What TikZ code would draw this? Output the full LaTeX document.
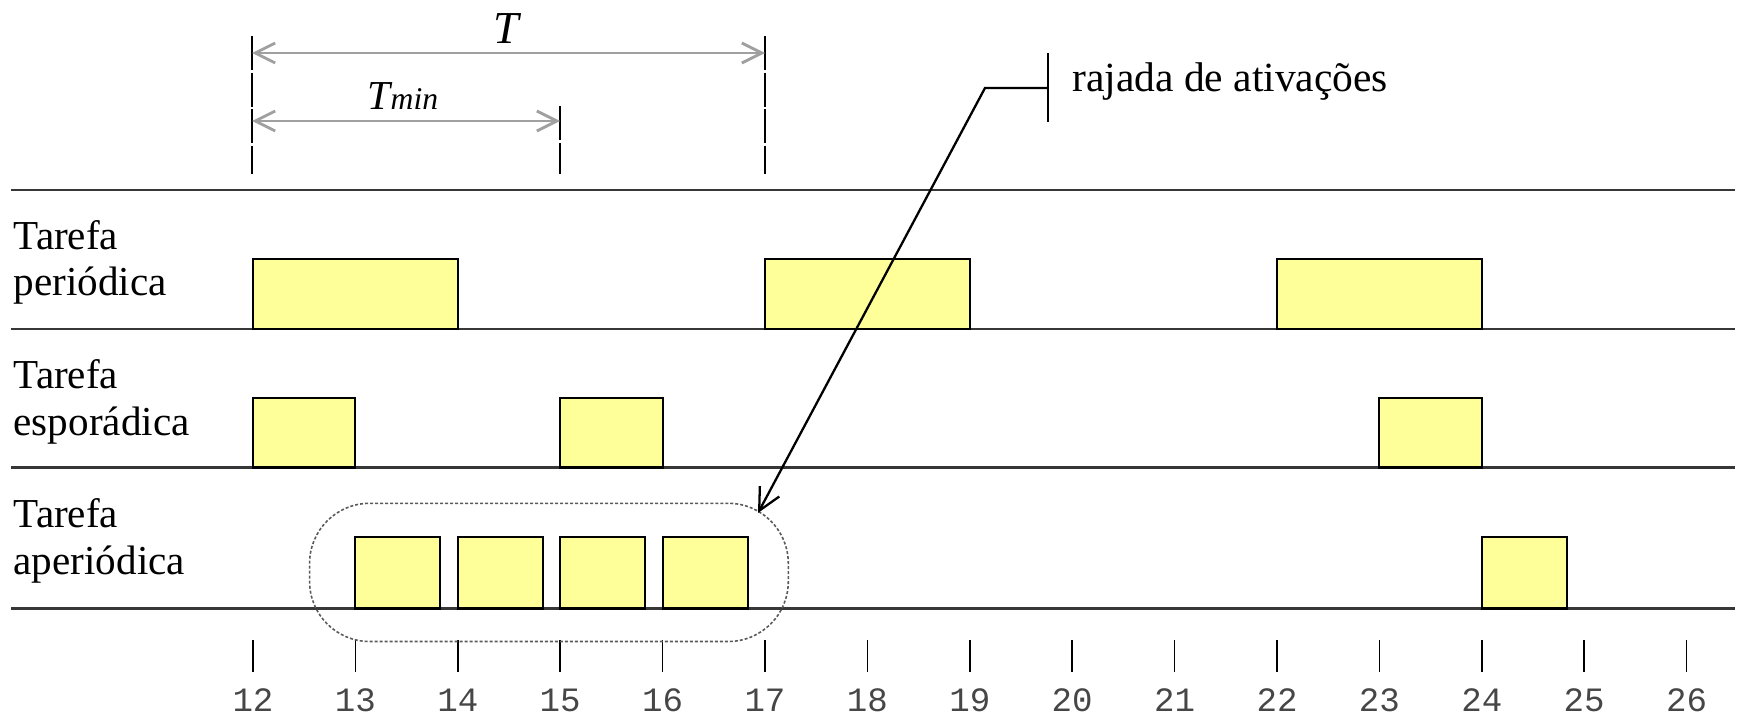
\documentclass[tikz,border=0pt]{standalone}
\usepackage{fontspec}
\setmainfont{Liberation Serif}
\newfontfamily\digitfont{Liberation Mono}
\usetikzlibrary{arrows.meta,fit}
\definecolor{boxfill}{RGB}{255,255,153}
\definecolor{rulegray}{RGB}{55,55,55}
\definecolor{dimgray}{RGB}{160,160,160}
\definecolor{burstgray}{RGB}{90,90,90}
\definecolor{numgray}{RGB}{70,70,70}
\begin{document}
\begin{tikzpicture}[x=0.01cm,y=-0.01cm,
  rowline/.style={draw=rulegray,line width=0.7pt},
  tbox/.style={draw=black,fill=boxfill,line width=0.6pt},
  tickmark/.style={draw=black,line width=0.5pt},
  guide/.style={draw=black,line width=0.5pt,dash pattern=on 0.34cm off 0.025cm},
  dimline/.style={draw=dimgray,line width=0.8pt,{Straight Barb[length=0.2cm,width=0.2cm]}-{Straight Barb[length=0.2cm,width=0.2cm]}},
  callout/.style={draw=black,line width=0.65pt},
  burst/.style={draw=burstgray,line width=0.45pt,dash pattern=on 0.03cm off 0.02cm,rounded corners=0.6cm,inner sep=0pt},
  lbl/.style={anchor=base west,inner sep=0pt,font=\fontsize{11.7}{14}\selectfont},
  num/.style={anchor=base,inner sep=0pt,text=numgray,font=\digitfont\fontsize{9.7}{12}\selectfont},
]
\useasboundingbox (0,0) rectangle (1741,718);

% row separator lines
\foreach \y/\n in {190/r0,329/r1,467.5/r2,608.5/r3}{
  \coordinate (\n w) at (11,\y);
  \coordinate (\n e) at (1735,\y);
  \draw[rowline] (\n w) -- (\n e);
}

% row labels
\node[lbl] (p1) at (13,249.3) {Tarefa};
\node[lbl] (p2) at (13,295) {periódica};
\node[lbl] (s1) at (13,388.3) {Tarefa};
\node[lbl] (s2) at (13,435) {esporádica};
\node[lbl] (a1) at (13,527.7) {Tarefa};
\node[lbl] (a2) at (13,574.3) {aperiódica};

% task boxes
\foreach \a/\b in {12/14,17/19,22/24}
  \draw[tbox] ({253+(\a-12)*102.4},259) rectangle ({253+(\b-12)*102.4},329);
\foreach \a/\b in {12/13,15/16,23/24}
  \draw[tbox] ({253+(\a-12)*102.4},398) rectangle ({253+(\b-12)*102.4},467.5);
\foreach \a/\b in {13/13.83,14/14.83,15/15.83,16/16.83,24/24.83}
  \draw[tbox] ({253+(\a-12)*102.4},537) rectangle ({253+(\b-12)*102.4},608.5);

% time axis
\foreach \t in {12,...,26}{
  \coordinate (tk\t) at ({253+(\t-12)*102.4},640);
  \draw[tickmark] (tk\t) -- ++(0,32);
  \node[num] (n\t) at ({253+(\t-12)*102.4},711) {\t};
}

% guides and dimension arrows
\coordinate (g12t) at (252,36);  \coordinate (g12b) at (252,174);
\coordinate (g17t) at (765,36);  \coordinate (g17b) at (765,174);
\coordinate (g15t) at (560,106); \coordinate (g15b) at (560,174);
\draw[guide] (g12t) -- (g12b);
\draw[guide] (g17t) -- (g17b);
\draw[guide] (g15t) -- (g15b);
\coordinate (dT1) at (252,53);  \coordinate (dT2) at (765,53);
\coordinate (dm1) at (252,121); \coordinate (dm2) at (560,121);
\draw[dimline] (dT1) -- (dT2);
\draw[dimline] (dm1) -- (dm2);
\node[anchor=base,inner sep=0pt,font=\fontsize{13}{15}\selectfont\itshape] (Tlab) at (506,43.3) {T};
\node[anchor=base,inner sep=0pt] (Tminlab) at (403,110) {\fontsize{11.7}{14}\selectfont\itshape T\fontsize{9}{10}\selectfont min};

% burst of activations
\node[burst,fit={(309.6,503.3) (788.3,641.5)}] (burst) {};
\coordinate (bartop) at (1048,53);
\coordinate (barbot) at (1048,121.5);
\coordinate (barmid) at (1048,88);
\coordinate (bend) at (985,88);
\coordinate (tip) at (758,513);
\draw[callout] (bartop) -- (barbot);
\draw[callout,-{Straight Barb[length=0.22cm,width=0.22cm]}] (barmid) -- (bend) -- (tip);
\node[lbl,font=\fontsize{11.8}{14}\selectfont] (raj) at (1071.7,91.7) {rajada de ativações};
\end{tikzpicture}
\end{document}
